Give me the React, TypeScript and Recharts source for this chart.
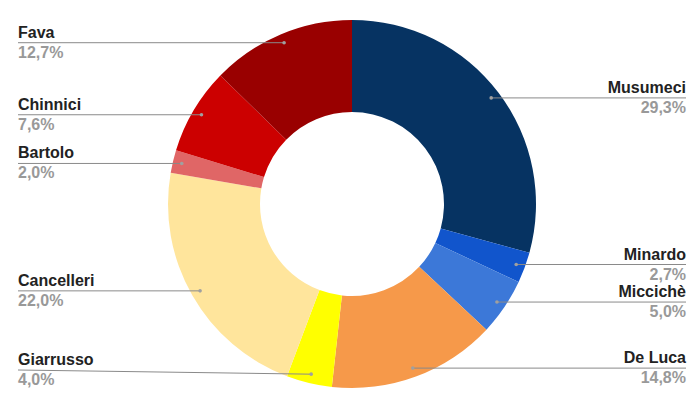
import React from 'react';
import { PieChart, Pie, Cell } from 'recharts';

const names = ['Musumeci', 'Minardo', 'Miccichè', 'De Luca', 'Giarrusso', 'Cancelleri', 'Bartolo', 'Chinnici', 'Fava'];
const shares = [29.3, 2.7, 5.0, 14.8, 4.0, 22.0, 2.0, 7.6, 12.7];
const colors = ['#063362', '#1155cc', '#3c78d8', '#f6994a', '#ffff00', '#ffe59c', '#e06666', '#cc0000', '#990000'];

const data = names.map((name, i) => ({ name, value: shares[i] }));

const RAD = Math.PI / 180;

const fmt = (v: number) => v.toFixed(1).replace('.', ',') + '%';

const renderLabel = (props: any) => {
  const { cx, cy, midAngle, outerRadius, index } = props;
  const r = outerRadius - 9;
  const x = cx + r * Math.cos(-midAngle * RAD);
  const y = cy + r * Math.sin(-midAngle * RAD);
  const left = x < cx;
  // keep the text inside the chart at the bottom
  const ty = Math.min(y, 370);
  const tx = left ? 18 : 686;
  return (
    <g key={'lbl' + index}>
      <line x1={tx} y1={ty} x2={x} y2={y} stroke="#8a8a8a" strokeWidth={1} />
      <circle cx={x} cy={y} r={1.8} fill="#a0a0a0" />
      <text x={tx} y={ty - 5} textAnchor={left ? 'start' : 'end'} fontSize={16} fontWeight="bold" fill="#222222">
        {names[index]}
      </text>
      <text x={tx} y={ty + 15} textAnchor={left ? 'start' : 'end'} fontSize={16} fontWeight="bold" fill="#999999">
        {fmt(shares[index])}
      </text>
    </g>
  );
};

export default function App() {
  return (
    <div style={{ position: 'absolute', left: 0, top: 0, width: 700, height: 398, background: '#fff', fontFamily: 'Arial, "Liberation Sans", sans-serif' }}>
      <PieChart width={700} height={398} margin={{ top: 0, right: 0, bottom: 0, left: 0 }}>
        <Pie
          data={data}
          dataKey="value"
          nameKey="name"
          cx={352}
          cy={204}
          innerRadius={92}
          outerRadius={184}
          startAngle={90}
          endAngle={-270}
          stroke="none"
          label={renderLabel}
          labelLine={false}
          isAnimationActive={false}
        >
          {data.map((d, i) => (
            <Cell key={d.name} fill={colors[i]} />
          ))}
        </Pie>
      </PieChart>
    </div>
  );
}
